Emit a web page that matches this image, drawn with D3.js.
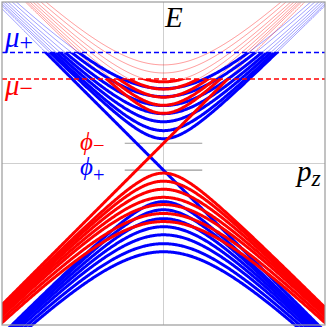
<!DOCTYPE html>
<html>
<head>
<meta charset="utf-8">
<script src="https://cdn.jsdelivr.net/npm/d3@7"></script>
<style>
  html, body { margin: 0; padding: 0; background: #fff; }
  svg { display: block; }
  text { font-family: "Liberation Serif", "DejaVu Serif", serif; }
</style>
</head>
<body>
<svg width="327" height="328"></svg>
<script>
const svg = d3.select("svg");

// DATA (energies in units of the plot, p_z in the same units)
const phiPlus = -0.083;   // node offset of the blue (+) family
const phiMinus = 0.251;   // node offset of the red (-) family
const muPlus = 1.375;     // blue chemical potential
const muMinus = 1.046;    // red chemical potential
const blueMass = [0.39, 0.49, 0.6, 0.7, 0.8, 0.91, 1.01];
const redMass = [0.37, 0.47, 0.57, 0.67, 0.76, 0.87, 0.97];
const phiTick = 0.48;     // half length of the short phi markers

// CONSTANTS
const frame = { left: 2, top: 2, right: 325, bottom: 325 };
const thick = 3;
const thin = 1;

// SCALES
const xScale = d3.scaleLinear().domain([-2, 2]).range([frame.left, frame.right]);
const yScale = d3.scaleLinear().domain([-2, 2]).range([frame.bottom, frame.top]);

const pGrid = d3.range(-2.15, 2.1501, 0.01);

const line = d3.line()
  .x(d => xScale(d[0]))
  .y(d => yScale(d[1]));

// every curve of one family: upper and lower Landau branches + the chiral line
function familyCurves(phi, masses, chiral) {
  const curves = [];
  masses.forEach(m => {
    curves.push(pGrid.map(p => [p, phi + Math.sqrt(p * p + m * m)]));
    curves.push(pGrid.map(p => [p, phi - Math.sqrt(p * p + m * m)]));
  });
  curves.push(pGrid.map(p => [p, phi + chiral * p]));
  return curves;
}

const families = [
  { key: "blue", color: "#0000ff", phi: phiPlus, mu: muPlus, curves: familyCurves(phiPlus, blueMass, -1) },
  { key: "red", color: "#ff0000", phi: phiMinus, mu: muMinus, curves: familyCurves(phiMinus, redMass, 1) }
];

const defs = svg.append("defs");

families.forEach(f => {
  const yMu = yScale(f.mu);
  defs.append("clipPath").attr("id", `below-${f.key}`)
    .append("rect")
    .attr("x", frame.left).attr("y", yMu)
    .attr("width", frame.right - frame.left).attr("height", frame.bottom + 2 - yMu);
  defs.append("clipPath").attr("id", `above-${f.key}`)
    .append("rect")
    .attr("x", frame.left).attr("y", frame.top)
    .attr("width", frame.right - frame.left).attr("height", yMu - frame.top);
});

// axes through the origin
const axes = svg.append("g").attr("stroke", "#cfcfcf").attr("stroke-width", 1);
axes.append("line")
  .attr("x1", xScale(0)).attr("x2", xScale(0))
  .attr("y1", frame.top).attr("y2", frame.bottom);
axes.append("line")
  .attr("x1", frame.left).attr("x2", frame.right)
  .attr("y1", yScale(0)).attr("y2", yScale(0));

// short markers at phi+ and phi-
svg.append("g")
  .selectAll("line")
  .data([phiMinus, phiPlus])
  .join("line")
  .attr("x1", xScale(-phiTick)).attr("x2", xScale(phiTick))
  .attr("y1", d => yScale(d)).attr("y2", d => yScale(d))
  .attr("stroke", "#9a9a9a")
  .attr("stroke-width", 1.2);

// empty states above mu: thin and light
families.forEach(f => {
  svg.append("g")
    .attr("clip-path", `url(#above-${f.key})`)
    .selectAll("path")
    .data(f.curves)
    .join("path")
    .attr("d", line)
    .attr("fill", "none")
    .attr("stroke", f.color)
    .attr("stroke-opacity", 0.4)
    .attr("stroke-width", thin);
});

// occupied states below mu: thick
families.forEach(f => {
  svg.append("g")
    .attr("clip-path", `url(#below-${f.key})`)
    .selectAll("path")
    .data(f.curves)
    .join("path")
    .attr("d", line)
    .attr("fill", "none")
    .attr("stroke", f.color)
    .attr("stroke-width", thick);
});

// chemical potentials
svg.append("g")
  .selectAll("line")
  .data(families)
  .join("line")
  .attr("x1", frame.left).attr("x2", frame.right)
  .attr("y1", d => yScale(d.mu)).attr("y2", d => yScale(d.mu))
  .attr("stroke", d => d.color)
  .attr("stroke-width", 1.5)
  .attr("stroke-dasharray", "5,3");

// frame
svg.append("rect")
  .attr("x", frame.left).attr("y", frame.top)
  .attr("width", frame.right - frame.left).attr("height", frame.bottom - frame.top)
  .attr("fill", "none")
  .attr("stroke", "#9a9a9a")
  .attr("stroke-width", 1.2);

// LABELS
function label(x, y, color, size, main, sub, subDy) {
  const t = svg.append("text")
    .attr("x", x).attr("y", y)
    .attr("fill", color)
    .attr("font-size", size);
  t.append("tspan").attr("font-style", "italic").text(main);
  if (sub) {
    t.append("tspan")
      .attr("dy", subDy)
      .attr("font-size", size * 0.82)
      .attr("font-style", sub === "z" ? "italic" : "normal")
      .text(sub);
  }
}

label(5, 47, "#0000ff", 29, "μ", "+", 3);
label(5, 95, "#ff0000", 29, "μ", "−", 1);
label(165, 27, "#000", 29, "E");
label(297, 181, "#000", 29, "p", "z", 5);
label(80, 150, "#ff0000", 25, "ϕ", "−", 2);
label(80, 175, "#0000ff", 25, "ϕ", "+", 7);
</script>
</body>
</html>
